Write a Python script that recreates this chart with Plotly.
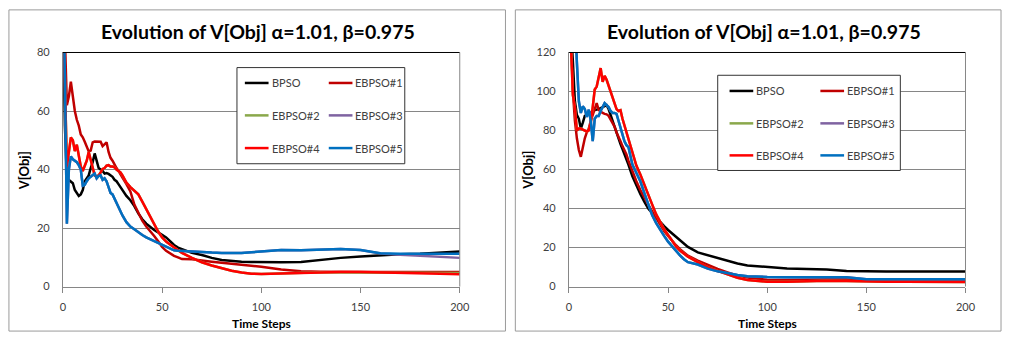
import plotly.graph_objects as go

# ---------------- data ----------------
STEPS = list(range(0, 31)) + list(range(32, 61, 2)) + list(range(65, 101, 5)) + list(range(110, 201, 10))

SERIES_NAMES = ["BPSO", "EBPSO#1", "EBPSO#2", "EBPSO#3", "EBPSO#4", "EBPSO#5"]
X_TICKS = [0, 50, 100, 150, 200]
L_Y_TICKS = [0, 20, 40, 60, 80]
R_Y_TICKS = [0, 20, 40, 60, 80, 100, 120]
TITLE = "Evolution of V[Obj] α=1.01, β=0.975"

# Left chart
L_BPSO = [100, 55, 37, 36.4, 36, 35.3, 33, 32, 31, 31.5, 33, 36, 37, 38, 40.5, 42.5, 45.5, 43, 40.5, 40,
          39.5, 38.6, 38.8, 38.5, 38, 37.5, 36.5, 36, 35, 34, 33.2,
          31, 29.5, 27.5, 25, 23, 21.5, 20.3, 19.3, 18.5, 17.7, 16.8, 15.5, 14.2, 13.3, 12.8,
          11.5, 10.8, 9.8, 9.1, 8.7, 8.5, 8.4, 8.3,
          8.3, 8.4, 9.2, 9.8, 10.3, 10.7, 11.0, 11.2, 11.6, 12.0]
L_EBPSO1 = [130, 85, 62, 65, 70, 65, 60, 57, 55, 52, 51, 49.5, 47.5, 46.2, 46.5, 49.3, 49.6, 49.6, 49.6, 49.5,
            48, 48.5, 49.3, 46, 44, 43, 41.5, 40.5, 39.5, 38.5, 37.2,
            35, 32.5, 28, 25, 22.5, 20.5, 19, 17.3, 15.5, 13.5, 12.2, 11.2, 10.5, 10, 9.4,
            9.3, 9.0, 8.5, 8.1, 7.8, 7.5, 7.3, 6.8,
            5.8, 5.2, 5.1, 5.0, 5.0, 5.0, 5.0, 5.0, 5.1, 5.0]
L_EBPSO2 = [130, 70, 41, 46, 51, 50, 46.3, 48.5, 44.1, 41, 39.5, 41.5, 43, 46, 43, 40, 38, 37.5, 38, 39,
            40.2, 40.5, 41.3, 41.5, 41, 41, 40.8, 40, 39.5, 39, 38,
            35.5, 34, 32.9, 31.5, 29, 26.5, 24, 21.2, 18.8, 16.8, 15.4, 14.4, 13.4, 12.4, 11.5,
            9.8, 8.3, 7.2, 6.2, 5.4, 4.8, 4.4, 4.3,
            4.5, 4.8, 4.9, 4.8, 4.7, 4.7, 4.7, 4.7, 4.6, 4.6]
L_EBPSO3 = [120, 70, 21.5, 40, 44.5, 43.5, 43, 42.5, 41.5, 40, 34.5, 34.8, 36, 37, 37.5, 38, 38.6, 37, 37.8, 38,
            36.5, 37, 36, 34, 32, 31.5, 30, 28.5, 27, 25.6, 24.3,
            22, 20.5, 19.6, 18.5, 17.6, 16.8, 16.2, 15.6, 15, 14.4, 13.8, 13, 12.4, 12.2, 12.1,
            12, 11.7, 11.6, 11.5, 11.4, 11.5, 11.7, 11.9,
            12.5, 12.4, 12.6, 12.8, 12.5, 11.3, 10.9, 10.5, 10.1, 9.8]
L_EBPSO4 = [130, 70, 41, 46, 51, 50, 46.3, 48.5, 44.1, 41, 39.5, 41.5, 43, 46, 43, 40, 38, 37.5, 38, 39,
            40.2, 40.5, 41.3, 41.5, 41, 41, 40.8, 40, 39.5, 39, 38,
            35.5, 34, 32.9, 31.5, 29, 26.5, 24, 21.2, 18.8, 16.8, 15.4, 14.4, 13.4, 12.4, 11.5,
            9.8, 8.3, 7.2, 6.2, 5.4, 4.8, 4.4, 4.3,
            4.5, 4.8, 5.0, 5.0, 5.0, 4.9, 4.6, 4.5, 4.4, 4.2]
L_EBPSO5 = [120, 70, 21.5, 40, 44.5, 43.5, 43, 42.5, 41.5, 40, 34.5, 34.8, 36, 37, 37.5, 38, 38.6, 37, 37.8, 38,
            36.5, 37, 36, 34, 32, 31.5, 30, 28.5, 27, 25.6, 24.3,
            22, 20.5, 19.6, 18.5, 17.6, 16.8, 16.2, 15.6, 15, 14.4, 13.8, 13, 12.4, 12.2, 12.1,
            12, 11.7, 11.6, 11.5, 11.4, 11.5, 11.7, 11.9,
            12.5, 12.4, 12.6, 12.8, 12.5, 11.4, 11.2, 11.2, 11.2, 11.2]

# Right chart
R_BPSO = [150, 135, 115, 95, 88, 86, 81, 84, 87.5, 88, 89.5, 89, 90, 90.5, 90.7, 91, 91.5, 92, 92.5, 93,
          91, 88, 85, 81, 78, 75.5, 73, 70.5, 68, 65.3, 62.5,
          56.5, 51.5, 47.5, 43.5, 40, 37.6, 35.3, 33, 31, 29, 27.3, 25.5, 23.8, 22, 20.3,
          17.5, 16, 14.5, 13, 11.8, 10.8, 10.4, 10.1,
          9.3, 9.0, 8.7, 8.0, 7.7, 7.7, 7.7, 7.7, 7.7, 7.7]
R_EBPSO1 = [150, 130, 100, 85, 76, 70, 66.5, 72, 76, 79, 81, 85, 88, 92, 94, 90.5, 89.5, 89, 88.5, 88.3,
            87.5, 85.5, 83.5, 82, 79, 77, 74.5, 72, 70, 67.7, 64.5,
            59, 54, 49.5, 45.5, 42, 38.5, 35, 31.5, 28.5, 26, 23.5, 21.2, 19.2, 17.4, 15.8,
            13.3, 11, 9, 7.3, 5.6, 4.6, 3.9, 3.5,
            3.3, 3.6, 3.8, 3.8, 3.2, 2.9, 2.9, 2.9, 2.8, 2.7]
R_EBPSO2 = [150, 125, 98, 92, 80, 81, 81, 80.5, 80, 79.5, 80, 84, 92, 101, 102.5, 108, 112, 105, 108, 106,
            103, 100, 97, 94, 91, 90, 90.4, 86, 82.5, 79, 75.5,
            68, 62, 57.5, 52, 47.5, 42, 37, 33, 29.5, 26.5, 23.5, 20.5, 18.5, 16.8, 15.3,
            12.5, 10, 8, 6.2, 4.5, 3.4, 2.8, 2.5,
            2.5, 2.8, 3.0, 2.9, 2.6, 2.5, 2.4, 2.4, 2.3, 2.3]
R_EBPSO3 = [160, 160, 150, 140, 115, 95, 89, 92.4, 91, 87, 90.7, 85, 74.5, 86, 87.5, 87.5, 90, 92.5, 94, 93,
            92, 90, 89, 89, 88.5, 85, 81, 77, 74.5, 72.5, 71.5,
            62.5, 58, 54, 48, 42, 36.5, 32.5, 29, 26, 23, 20.5, 18, 16, 14, 12.5,
            11.3, 9.2, 7.8, 6.7, 5.9, 5.3, 5.0, 4.9,
            4.8, 4.8, 4.8, 4.8, 3.8, 3.7, 3.7, 3.7, 3.7, 3.7]
R_EBPSO4 = [150, 125, 98, 92, 80, 81, 81, 80.5, 80, 79.5, 80, 84, 92, 101, 102.5, 108, 112, 105, 108, 106,
            103, 100, 97, 94, 91, 90, 90.4, 86, 82.5, 79, 75.5,
            68, 62, 57.5, 52, 47.5, 42, 37, 33, 29.5, 26.5, 23.5, 20.5, 18.5, 16.8, 15.3,
            12.5, 10, 8, 6.2, 4.5, 3.4, 2.8, 2.5,
            2.5, 2.8, 3.0, 2.9, 2.6, 2.5, 2.4, 2.4, 2.3, 2.3]
R_EBPSO5 = [160, 160, 150, 140, 115, 95, 89, 92.4, 91, 87, 90.7, 85, 74.5, 86, 87.5, 87.5, 90, 92.5, 94, 93,
            92, 90, 89, 89, 88.5, 85, 81, 77, 74.5, 72.5, 71.5,
            62.5, 58, 54, 48, 42, 36.5, 32.5, 29, 26, 23, 20.5, 18, 16, 14, 12.5,
            11.3, 9.2, 7.8, 6.7, 5.9, 5.3, 5.0, 4.9,
            4.8, 4.8, 4.8, 4.8, 3.8, 3.7, 3.7, 3.7, 3.7, 3.7]

COLORS = ["#000000", "#C00000", "#8AA84B", "#7F63A1", "#FF0000", "#0070C0"]

LEFT = [L_BPSO, L_EBPSO1, L_EBPSO2, L_EBPSO3, L_EBPSO4, L_EBPSO5]
RIGHT = [R_BPSO, R_EBPSO1, R_EBPSO2, R_EBPSO3, R_EBPSO4, R_EBPSO5]

# ---------------- layout helpers ----------------
W, H = 1013, 339
def px(x):
    return x / W
def py(y):
    return 1 - y / H

FONT = "Lato, 'Open Sans', Arial, sans-serif"
GRID = "#868686"
TICKC = "#404040"

fig = go.Figure()
for ys, name, col in zip(LEFT, SERIES_NAMES, COLORS):
    fig.add_trace(go.Scatter(x=STEPS, y=ys, mode="lines", name=name, showlegend=False,
                             line=dict(color=col, width=2.5), xaxis="x", yaxis="y"))
for ys, name, col in zip(RIGHT, SERIES_NAMES, COLORS):
    fig.add_trace(go.Scatter(x=STEPS, y=ys, mode="lines", name=name, showlegend=False,
                             line=dict(color=col, width=2.5), xaxis="x2", yaxis="y2"))

def xax(domain, anchor):
    return dict(domain=domain, anchor=anchor, range=[0, 200], tickvals=X_TICKS,
                showline=True, linecolor=GRID, linewidth=1, ticks="outside", ticklen=5,
                tickcolor=GRID, showgrid=False, zeroline=False, ticklabelstandoff=5,
                tickfont=dict(family=FONT, size=11, color=TICKC), fixedrange=True)

def yax(domain, anchor, rng, ticks):
    return dict(domain=domain, anchor=anchor, range=rng, tickvals=ticks,
                showline=True, linecolor=GRID, linewidth=1, ticks="", showgrid=True,
                gridcolor=GRID, gridwidth=1, zeroline=False, ticklabelstandoff=10,
                tickfont=dict(family=FONT, size=11, color=TICKC), fixedrange=True)

YDOM = [py(290.7), py(47.3)]
fig.update_layout(
    width=W, height=H, margin=dict(l=0, r=0, t=0, b=0),
    paper_bgcolor="white", plot_bgcolor="white", showlegend=False,
    xaxis=xax([px(60.7), px(462.7)], "y"),
    yaxis=yax(YDOM, "x", [0, 80], L_Y_TICKS),
    xaxis2=xax([px(573.3), px(975)], "y2"),
    yaxis2=yax(YDOM, "x2", [0, 120], R_Y_TICKS),
)

shapes = []
annotations = []

# chart frames
for x0, x1 in [(6, 509), (519, 1011)]:
    shapes.append(dict(type="rect", xref="paper", yref="paper", x0=px(x0), x1=px(x1), y0=py(337), y1=py(3),
                       line=dict(color="#9A9A9A", width=1), fillcolor="rgba(0,0,0,0)", layer="below"))

# plot-area top (black) and right (gray) edges
for xa, ya in [("x", "y"), ("x2", "y2")]:
    shapes.append(dict(type="line", xref=f"{xa} domain", yref=f"{ya} domain", x0=0, x1=1, y0=1, y1=1,
                       line=dict(color="#000000", width=1), layer="above"))
    shapes.append(dict(type="line", xref=f"{xa} domain", yref=f"{ya} domain", x0=1, x1=1, y0=0, y1=1,
                       line=dict(color=GRID, width=1), layer="above"))

# titles and axis titles
for cx, tx in [(258, 262), (771, 774)]:
    annotations.append(dict(text=f"<b>{TITLE}</b>", x=px(cx), y=py(25), xref="paper", yref="paper",
                            xanchor="center", yanchor="middle", showarrow=False,
                            font=dict(family=FONT, size=19.5, color="#000000")))
    annotations.append(dict(text="<b>Time Steps</b>", x=px(tx), y=py(329), xref="paper", yref="paper",
                            xanchor="center", yanchor="middle", showarrow=False,
                            font=dict(family=FONT, size=12, color="#000000")))
for vx in [22, 532]:
    annotations.append(dict(text="<b>V[Obj]</b>", x=px(vx), y=py(170), xref="paper", yref="paper",
                            xanchor="center", yanchor="middle", showarrow=False, textangle=-90,
                            font=dict(family=FONT, size=13, color="#000000")))

# legends (drawn manually, 2 columns x 3 rows)
def legend(box, rows, cols):
    bx0, by0, bx1, by1 = box
    shapes.append(dict(type="rect", xref="paper", yref="paper", x0=px(bx0), x1=px(bx1), y0=py(by1), y1=py(by0),
                       line=dict(color="#333333", width=1), fillcolor="white", layer="above"))
    for i, (name, col) in enumerate(zip(SERIES_NAMES, COLORS)):
        r, c = divmod(i, 2)
        lx0, lx1 = cols[c]
        yy = rows[r]
        shapes.append(dict(type="line", xref="paper", yref="paper", x0=px(lx0), x1=px(lx1), y0=py(yy), y1=py(yy),
                           line=dict(color=col, width=2.5), layer="above"))
        annotations.append(dict(text=name, x=px(lx1 + 1), y=py(yy), xref="paper", yref="paper",
                                xanchor="left", yanchor="middle", showarrow=False,
                                font=dict(family=FONT, size=11, color="#404040")))

legend((237, 63, 407, 163), [79, 112.7, 146.7], [(245, 269), (330, 354)])
legend((724, 71, 909, 170), [87.3, 121, 154.3], [(736, 760), (828, 852)])

fig.update_layout(shapes=shapes, annotations=annotations)
fig.write_html("out.html")
